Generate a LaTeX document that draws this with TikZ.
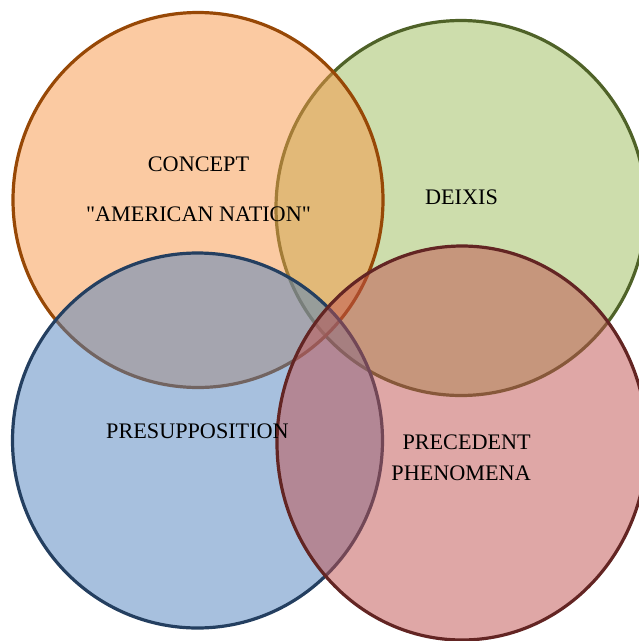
\documentclass[tikz,border=0pt]{standalone}
\usepackage{fontspec}
\setmainfont{Liberation Serif}[Ligatures=TeXOff]
\usetikzlibrary{shapes.geometric, positioning}
\definecolor{conceptfill}{HTML}{F79646}
\definecolor{conceptline}{HTML}{974806}
\definecolor{deixisfill}{HTML}{9BBB59}
\definecolor{deixisline}{HTML}{4F6228}
\definecolor{presupfill}{HTML}{4F81BD}
\definecolor{presupline}{HTML}{243F60}
\definecolor{precfill}{HTML}{C0504D}
\definecolor{precline}{HTML}{632523}
\tikzset{set/.style={ellipse, draw, line width=3.2pt, fill opacity=0.5, draw opacity=1,
                     minimum width=370pt, minimum height=375pt, inner sep=0pt},
         settext/.style={inner sep=0pt, text=black, font=\fontsize{22.2}{26}\selectfont},
        }

\begin{document}
\begin{tikzpicture}[x=1pt,y=-1pt]
        \useasboundingbox (0,0) rectangle (639,641);

        \node[set, fill=deixisfill, draw=deixisline](deixis)at(461,208){};
        \node[set, fill=conceptfill, draw=conceptline](concept)at(198,200){};
        \node[set, fill=presupfill, draw=presupline](presup)at(197.5,440.5){};
        \node[set, fill=precfill, draw=precline, minimum height=394pt](prec)at(462,443){};

        \node[settext](concept1)at(198.5,164){CONCEPT};
        \node[settext](concept2)at(198.5,214){"AMERICAN NATION"};
        \node[settext](deixis1)at(461.5,197){DEIXIS};
        \node[settext](presup1)at(197.5,431){PRESUPPOSITION};
        \node[settext, anchor=east](prec1)at(531,442){PRECEDENT};
        \node[settext, anchor=east](prec2)at(531,473){PHENOMENA};
    \end{tikzpicture}
\end{document}
